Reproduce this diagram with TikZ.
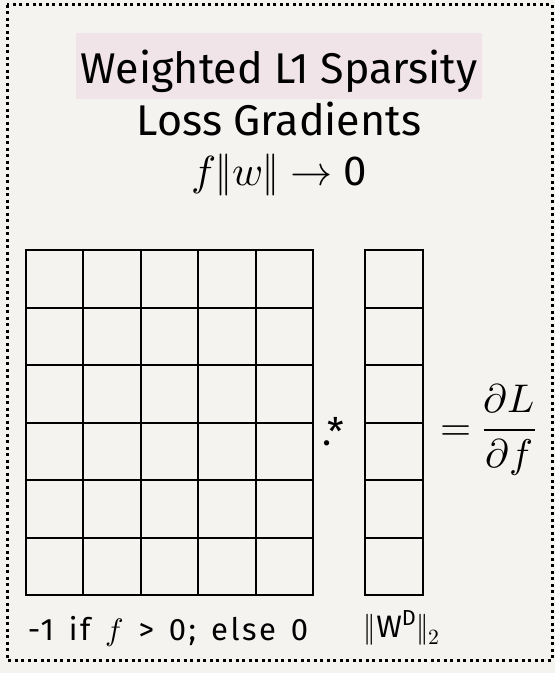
\documentclass[tikz,border=0pt]{standalone}
\usepackage{unicode-math}
\setmainfont{Fira Sans}
\setmathfont{Latin Modern Math}
\newfontfamily\lblfont[LetterSpace=8,WordSpace=1.4]{Fira Sans}
\usetikzlibrary{positioning}
\definecolor{paper}{HTML}{F4F3F0}
\definecolor{hilite}{HTML}{F1E4E8}

\begin{document}
\begin{tikzpicture}[x=1pt, y=-1pt,
  cell/.style={draw, line width=2pt, minimum width=57.5pt, minimum height=57.5pt, inner sep=0pt},
  ttl/.style={font=\fontsize{43}{48}\selectfont, inner sep=0pt, anchor=base},
  lbl/.style={font=\lblfont\fontsize{31}{34}\selectfont, inner sep=0pt, anchor=base},
  frame/.style={line width=3pt, dash pattern=on 3pt off 3.5pt}]
\fill[paper] (0,0) rectangle (555,673);
\useasboundingbox (0,0) rectangle (555,673);
\draw[frame] (7,4.5) rectangle (552,660);
% title
\node[ttl, fill=hilite, minimum width=406pt, text height=46pt, text depth=12pt, inner ysep=4pt] (t1) at (279,83) {Weighted L1 Sparsity};
\node[ttl] (t2) at (279,135) {Loss Gradients};
\node[ttl, font=\fontsize{42}{46}\selectfont] (t3) at (279,185) {$f\|w\|$ $\rightarrow$ 0};
% matrix and vector
\foreach \r in {1,...,6} {
  \foreach \c in {1,...,5}
    \node[cell] (m\r\c) at ({25.5+57.5*(\c-0.5)}, {250.3+57.5*(\r-0.5)}) {};
  \node[cell, minimum width=58pt] (v\r) at (394, {250.3+57.5*(\r-0.5)}) {};
}
\node[inner sep=0pt, font=\fontsize{38}{40}\selectfont, anchor=base west] (op) at (322,445) {.*};
\node[inner sep=0pt, font=\fontsize{40}{44}\selectfont, anchor=base west] (eq) at (440,440) {$\displaystyle =\frac{\partial L}{\partial f}$};
% labels
\node[lbl] (lm) at (168,640) {-1 if $f$ > 0; else 0};
\node[lbl] (lv) at (402,637) {$\|$W\textsuperscript{D}$\|_2$};
\end{tikzpicture}
\end{document}
